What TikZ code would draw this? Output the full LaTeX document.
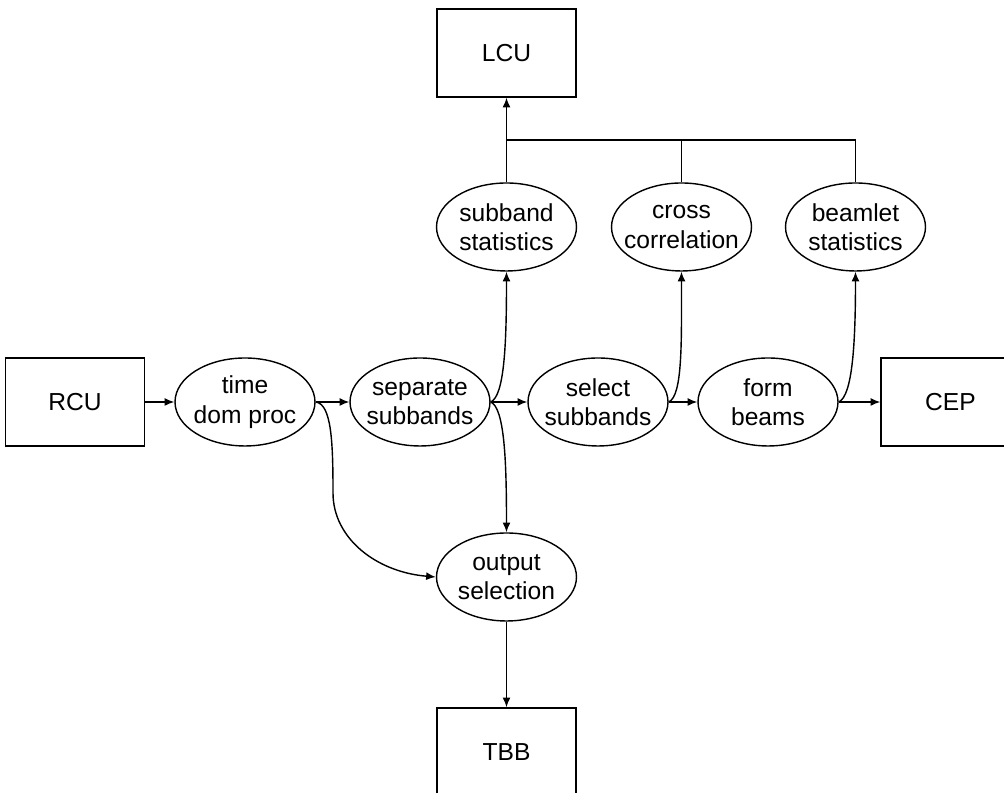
\documentclass[tikz,border=0pt]{standalone}
\usepackage{fontspec}
\setmainfont{Liberation Sans}
\usetikzlibrary{shapes.geometric, arrows.meta}
\begin{document}
\begin{tikzpicture}[x=0.02cm, y=0.02cm]

      \tikzset{unit/.style={draw, rectangle, line width=0.8pt, minimum width=2.78cm, minimum height=1.76cm, inner sep=0pt, font=\fontsize{14}{16.8}\selectfont}}
      \tikzset{proc/.style={draw, ellipse, line width=0.8pt, minimum width=2.8cm, minimum height=1.76cm, inner xsep=-5pt, inner ysep=0pt, align=center, font=\fontsize{14}{16.8}\selectfont}}
      \tikzset{flow/.style={->, >={Latex[length=5.5pt, width=4.5pt]}, line width=0.8pt}}
      \useasboundingbox (0,0) rectangle (1004,793);
%% Units
      	\node[unit] (LCU) at (506.5,740) {LCU};
      	\node[unit] (RCU) at (75,391) {RCU};
      	\node[unit] (CEP) at (950.5,391) {CEP};
      	\node[unit] (TBB) at (506.5,41) {TBB};
%% Processing
      	\node[proc] (time) at (245,391) {time\\dom proc};
      	\node[proc] (sep) at (420,391) {separate\\subbands};
      	\node[proc] (sel) at (598,391) {select\\subbands};
      	\node[proc] (form) at (768,391) {form\\beams};
      	\node[proc] (sbst) at (506.5,566) {subband\\statistics};
      	\node[proc] (xcor) at (681.5,566) {cross\\correlation};
      	\node[proc] (bst) at (855.5,566) {beamlet\\statistics};
      	\node[proc] (outsel) at (506.5,216) {output\\selection};
      	\coordinate (jn) at (506.5,653);
      	\coordinate (tdbend) at (333,300);
%Edges
		\path [flow](RCU) edge (time);
		\path [flow](time) edge (sep);
		\path [flow](sep) edge (sel);
		\path [flow](sel) edge (form);
		\path [flow](form) edge (CEP);
		\path [flow](outsel) edge (TBB);
		\path [flow](sbst) edge (LCU);
		\draw [line width=0.8pt](xcor.north) -- (xcor.north |- jn);
		\draw [line width=0.8pt](bst.north) |- (jn);
		\draw [flow](sep.east) .. controls +(14,6) and +(0,-70) .. (sbst.south);
		\draw [flow](sel.east) .. controls +(14,6) and +(0,-70) .. (xcor.south);
		\draw [flow](form.east) .. controls +(14,6) and +(0,-70) .. (bst.south);
		\draw [flow](sep.east) .. controls +(14,-6) and +(0,70) .. (outsel.north);
		\draw [flow](time.east) .. controls +(16,-2) and +(0,50) .. (tdbend) .. controls +(0,-45) and +(-60,5) .. (outsel.west);

	\end{tikzpicture}
\end{document}
